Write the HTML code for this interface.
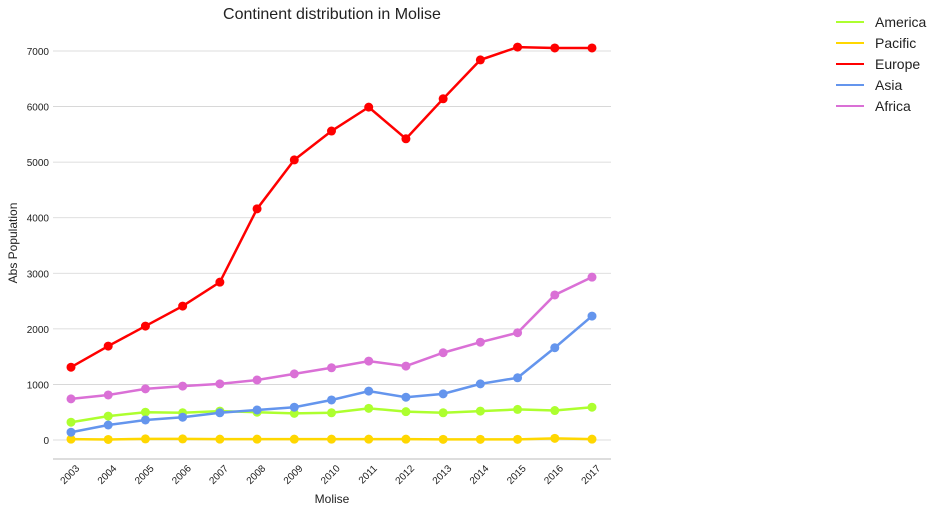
<!DOCTYPE html>
<html><head><meta charset="utf-8"><style>
body{margin:0;background:#fff;font-family:"Liberation Sans",sans-serif;}
svg text{font-family:"Liberation Sans",sans-serif;}
</style></head><body>
<svg id="chart" width="945" height="512"></svg>
<script>
const years=[2003,2004,2005,2006,2007,2008,2009,2010,2011,2012,2013,2014,2015,2016,2017];
const america=[320,430,500,490,520,500,480,490,570,510,490,520,550,530,590];
const pacific=[15,10,20,20,15,15,15,15,15,15,12,12,12,30,15];
const europe=[1310,1690,2050,2410,2840,4160,5040,5560,5990,5420,6140,6840,7070,7055,7055];
const asia=[140,270,360,410,490,540,590,720,880,770,830,1010,1120,1660,2230];
const africa=[740,810,920,970,1010,1080,1190,1300,1420,1330,1570,1760,1930,2610,2930];
const yTicks=[0,1000,2000,3000,4000,5000,6000,7000];
const seriesNames=["America","Pacific","Europe","Asia","Africa"];
const seriesColors=["#adff2f","#ffd700","#ff0000","#6495ed","#da70d6"];
const seriesData=[america,pacific,europe,asia,africa];
const NS="http://www.w3.org/2000/svg";
const svg=document.getElementById("chart");
function x(i){return 71+i*(592-71)/(years.length-1);}
function y(v){return 440-v*(440-51)/7000;}
function mk(tag,attrs,parent){const e=document.createElementNS(NS,tag);for(const k in attrs)e.setAttribute(k,attrs[k]);(parent||svg).appendChild(e);return e;}
yTicks.forEach(t=>{
 const g=mk("line",{x1:53,x2:611,y1:y(t),y2:y(t),stroke:"#d3d3d3","stroke-width":0.8});
 
 
 const l=mk("text",{x:49,y:y(t)+4,"text-anchor":"end","font-size":10,fill:"#222"});l.textContent=t;
 
 
});
const ax=mk("line",{x1:53,x2:611,y1:459,y2:459,stroke:"#bbb","stroke-width":1});


years.forEach((yr,i)=>{
 const tx=x(i)+9, ty=469;
 const t=mk("text",{x:tx,y:ty,"text-anchor":"end","font-size":10,fill:"#222",transform:`rotate(-45 ${tx} ${ty})`});t.textContent=yr;
 
 
});
seriesData.forEach((d,s)=>{
 const p=mk("polyline",{points:d.map((v,i)=>x(i)+","+y(v)).join(" "),fill:"none",stroke:seriesColors[s],"stroke-width":2.5});
 
 
 d.forEach((v,i)=>{const c=mk("circle",{cx:x(i),cy:y(v),r:4.5,fill:seriesColors[s]});
  
  });
});
seriesNames.forEach((n,s)=>{
 const ly=22+s*21;
 const l=mk("line",{x1:836,x2:864,y1:ly,y2:ly,stroke:seriesColors[s],"stroke-width":2});
 
 
 const t=mk("text",{x:875,y:ly+5,"font-size":14,fill:"#222"});t.textContent=n;
 
 
});
const title=mk("text",{x:332,y:19,"text-anchor":"middle","font-size":16,fill:"#222"});title.textContent="Continent distribution in Molise";


const xt=mk("text",{x:332,y:503,"text-anchor":"middle","font-size":12,fill:"#222"});xt.textContent="Molise";


const yt=mk("text",{x:17,y:243,"text-anchor":"middle","font-size":12,fill:"#222",transform:"rotate(-90 17 243)"});yt.textContent="Abs Population";


</script>
</body></html>
